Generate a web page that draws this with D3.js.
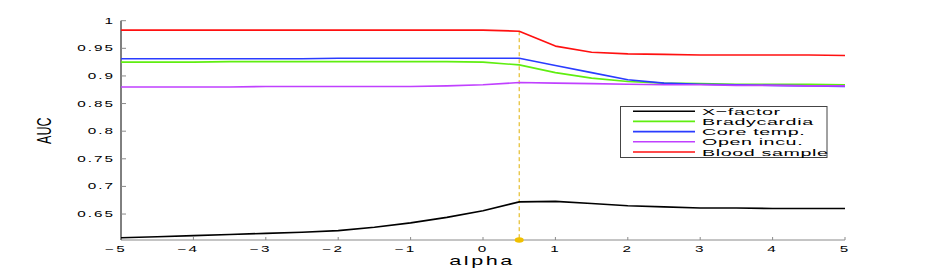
<!DOCTYPE html>
<html>
<head>
<meta charset="utf-8">
<script src="https://cdn.jsdelivr.net/npm/d3@7"></script>
<style>
  body { margin: 0; background: #fff; }
  svg { display: block; }
  text { font-family: "Liberation Sans", Arial, sans-serif; fill: #000; }
</style>
</head>
<body>
<div id="chart"></div>
<script>
// ___________________________ data ___________________________
var alpha = [-5, -4.5, -4, -3.5, -3, -2.5, -2, -1.5, -1, -0.5, 0, 0.5, 1, 1.5, 2, 2.5, 3, 3.5, 4, 4.5, 5];

var xFactor = [0.607, 0.609, 0.611, 0.613, 0.615, 0.617, 0.620, 0.626, 0.634, 0.644, 0.656, 0.672, 0.673, 0.669, 0.665, 0.663, 0.661, 0.661, 0.660, 0.660, 0.660];
var bradycardia = [0.925, 0.925, 0.925, 0.926, 0.926, 0.926, 0.926, 0.926, 0.926, 0.926, 0.925, 0.920, 0.906, 0.896, 0.890, 0.887, 0.886, 0.885, 0.885, 0.885, 0.884];
var coreTemp = [0.931, 0.931, 0.931, 0.931, 0.931, 0.931, 0.932, 0.932, 0.932, 0.932, 0.932, 0.932, 0.919, 0.906, 0.893, 0.887, 0.885, 0.884, 0.883, 0.882, 0.881];
var openIncu = [0.880, 0.880, 0.880, 0.880, 0.881, 0.881, 0.881, 0.881, 0.881, 0.882, 0.884, 0.888, 0.887, 0.886, 0.885, 0.884, 0.884, 0.883, 0.883, 0.882, 0.882];
var bloodSample = [0.983, 0.983, 0.983, 0.983, 0.983, 0.983, 0.983, 0.983, 0.983, 0.983, 0.983, 0.981, 0.954, 0.943, 0.940, 0.939, 0.938, 0.938, 0.938, 0.938, 0.937];

var seriesNames = ["X\u2212factor", "Bradycardia", "Core temp.", "Open incu.", "Blood sample"];
var seriesColors = ["#000000", "#5fee10", "#2a3cff", "#c040ff", "#ff1010"];

var xTicks = [-5, -4, -3, -2, -1, 0, 1, 2, 3, 4, 5];
var yTicks = [0.65, 0.7, 0.75, 0.8, 0.85, 0.9, 0.95, 1];

var markAlpha = 0.5; // dashed marker position

// ___________________________ chart _______________________________
var width = 934, height = 273;
var sx = 1.8; // the picture is stretched sideways, so is its text

var svg = d3.select("#chart").append("svg")
    .attr("width", width)
    .attr("height", height);

var xScale = d3.scaleLinear().domain([-5, 5]).range([121, 845]);
var yScale = d3.scaleLinear().domain([0.603, 1]).range([240, 20.7]);

function stretchedText(x, y, str, size, anchor, spacing, scaleX) {
    return svg.append("text")
        .attr("transform", "translate(" + x + "," + y + ") scale(" + (scaleX || sx) + ",1)")
        .attr("text-anchor", anchor)
        .style("font-size", size + "px")
        .style("letter-spacing", (spacing || 0) + "px")
        .text(str);
}

// axes
var y0 = yScale.range()[0];
svg.append("line")
    .attr("x1", xScale(-5)).attr("x2", xScale(5))
    .attr("y1", y0).attr("y2", y0)
    .attr("stroke", "#8a8a8a").attr("stroke-width", 1);

svg.append("line")
    .attr("x1", xScale(-5)).attr("x2", xScale(-5))
    .attr("y1", yScale(1)).attr("y2", y0)
    .attr("stroke", "#000").attr("stroke-width", 1);

// y ticks (inside)
yTicks.forEach(function (t) {
    svg.append("line")
        .attr("x1", xScale(-5)).attr("x2", xScale(-5) + 5)
        .attr("y1", yScale(t)).attr("y2", yScale(t))
        .attr("stroke", "#8a8a8a");
    stretchedText(xScale(-5) - 6, yScale(t) + 3, d3.format("")(t), 8.5, "end", 1.1);
});

// x ticks (inside)
xTicks.forEach(function (t) {
    svg.append("line")
        .attr("x1", xScale(t)).attr("x2", xScale(t))
        .attr("y1", y0).attr("y2", y0 - 3)
        .attr("stroke", "#8a8a8a");
    var label = t < 0 ? "\u2212" + Math.abs(t) : String(t);
    stretchedText(xScale(t) + (t < 0 ? -5 : 0), 251.7, label, 8.5, "middle", 1.1);
});

// axis titles
stretchedText(482, 265, "alpha", 12, "middle", 1.4);
svg.append("text")
    .attr("transform", "translate(50.5,130.7) scale(1.65,1) rotate(-90)")
    .attr("text-anchor", "middle")
    .style("font-size", "12.5px")
    .text("AUC");

// dashed marker at alpha = 0.5
var allSeries = [xFactor, bradycardia, coreTemp, openIncu, bloodSample];
var markIdx = alpha.indexOf(markAlpha);
var markTop = d3.max(allSeries, function (s) { return s[markIdx]; });
svg.append("line")
    .attr("x1", xScale(markAlpha)).attr("x2", xScale(markAlpha))
    .attr("y1", yScale(markTop)).attr("y2", y0)
    .attr("stroke", "#e0b000").attr("stroke-width", 1)
    .attr("stroke-dasharray", "4,3");

// series lines
var line = d3.line()
    .x(function (d, i) { return xScale(alpha[i]); })
    .y(function (d) { return yScale(d); });

allSeries.forEach(function (s, k) {
    svg.append("path")
        .datum(s)
        .attr("fill", "none")
        .attr("stroke", seriesColors[k])
        .attr("stroke-width", 1.6)
        .attr("stroke-linejoin", "round")
        .attr("d", line);
});

svg.append("ellipse")
    .attr("cx", xScale(markAlpha)).attr("cy", y0)
    .attr("rx", 4.5).attr("ry", 2.8)
    .attr("fill", "#f0c000");

// legend
var legend = svg.append("g");
legend.append("rect")
    .attr("x", 620.5).attr("y", 106.5)
    .attr("width", 206.5).attr("height", 51)
    .attr("fill", "#fff")
    .attr("stroke", "#444").attr("stroke-width", 1);

seriesNames.forEach(function (name, k) {
    var ly = 111.2 + k * 10.2;
    legend.append("line")
        .attr("x1", 633).attr("x2", 695)
        .attr("y1", ly).attr("y2", ly)
        .attr("stroke", seriesColors[k]).attr("stroke-width", 1.6);
    stretchedText(702, ly + 3.6, name, 9.6, "start", 0.3, 2.05);
});
</script>
</body>
</html>
